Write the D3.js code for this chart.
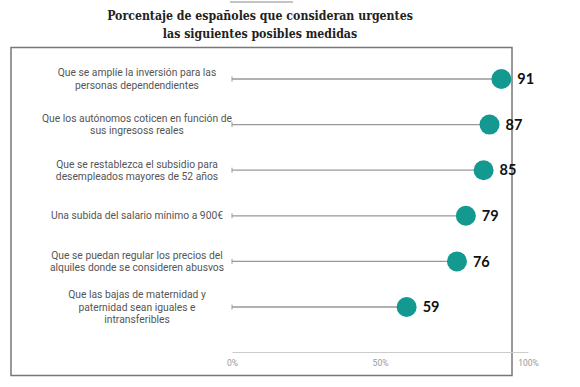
<!DOCTYPE html>
<html><head><meta charset="utf-8">
<script src="https://cdn.jsdelivr.net/npm/d3@7"></script>
<style>body{margin:0;background:#fff}svg{display:block}</style>
</head><body>
<script>
const categories = [
  ["Que se amplíe la inversión para las", "personas dependendientes"],
  ["Que los autónomos coticen en función de", "sus ingresoss reales"],
  ["Que se restablezca el subsidio para", "desempleados mayores de 52 años"],
  ["Una subida del salario mínimo a 900€"],
  ["Que se puedan regular los precios del", "alquiles donde se consideren abusvos"],
  ["Que las bajas de maternidad y", "paternidad sean iguales e", "intransferibles"]
];
const values = [91, 87, 85, 79, 76, 59];
const tickValues = [0, 50, 100];
const titleLines = ["Porcentaje de españoles que consideran urgentes", "las siguientes posibles medidas"];

const W = 580, H = 387;
const svg = d3.select("body").append("svg").attr("width", W).attr("height", H);

svg.append("line").attr("x1", 230).attr("x2", 293).attr("y1", 2).attr("y2", 2)
  .attr("stroke", "#888").attr("stroke-width", 1);

const titles = svg.selectAll("text.title").data(titleLines).join("text")
  .attr("class", "title")
  .attr("x", 260).attr("y", (d, i) => 20 + i * 18)
  .attr("text-anchor", "middle")
  .attr("font-family", "'DejaVu Serif Condensed', 'DejaVu Serif', serif").attr("font-weight", "bold")
  .attr("font-size", 15).attr("fill", "#222")
  .text(d => d);
const w0 = titles.nodes()[0].getComputedTextLength();
const fs = Math.min(16, 15 * 306 / w0);
titles.attr("font-size", fs);

svg.append("rect").attr("x", 11).attr("y", 47.5).attr("width", 501).attr("height", 328)
  .attr("fill", "none").attr("stroke", "#777").attr("stroke-width", 1.5);

const x = d3.scaleLinear().domain([0, 100]).range([232, 528]);
const y = d3.scalePoint().domain(d3.range(values.length)).range([79, 307]);

const axisG = svg.append("g").attr("transform", "translate(0,352)")
  .call(d3.axisBottom(x).tickValues(tickValues).tickFormat(d => d + "%").tickSize(0).tickPadding(8));
axisG.select(".domain").attr("stroke", "#ccc").attr("stroke-width", 1);
axisG.selectAll("text").attr("font-family", "Roboto, sans-serif").attr("font-size", 8.5).attr("fill", "#999");

const rows = svg.selectAll("g.row").data(values).join("g").attr("class", "row")
  .attr("transform", (d, i) => `translate(0,${y(i)})`);

rows.append("line").attr("x1", x(0)).attr("x2", d => x(d)).attr("y1", 0).attr("y2", 0)
  .attr("stroke", "#999").attr("stroke-width", 1.3);
rows.append("line").attr("x1", x(0)).attr("x2", x(0)).attr("y1", -2.5).attr("y2", 2.5)
  .attr("stroke", "#999").attr("stroke-width", 1);
rows.append("circle").attr("cx", d => x(d)).attr("cy", 0).attr("r", 10).attr("fill", "#13998f");
rows.append("text").attr("x", d => x(d) + 16).attr("y", 0).attr("dy", "0.36em")
  .attr("font-family", "Lato, sans-serif").attr("font-weight", "bold").attr("font-size", 14.5)
  .attr("fill", "#111").text(d => d);

rows.each(function (d, i) {
  const lines = categories[i];
  const lh = 12.5;
  const t = d3.select(this).append("text")
    .attr("text-anchor", "middle")
    .attr("font-family", "Roboto, sans-serif").attr("font-size", 10.3).attr("fill", "#555");
  lines.forEach((ln, j) => {
    t.append("tspan").attr("x", 137)
      .attr("y", (j - (lines.length - 1) / 2) * lh)
      .attr("dy", "0.35em").text(ln);
  });
});
</script>
</body></html>
